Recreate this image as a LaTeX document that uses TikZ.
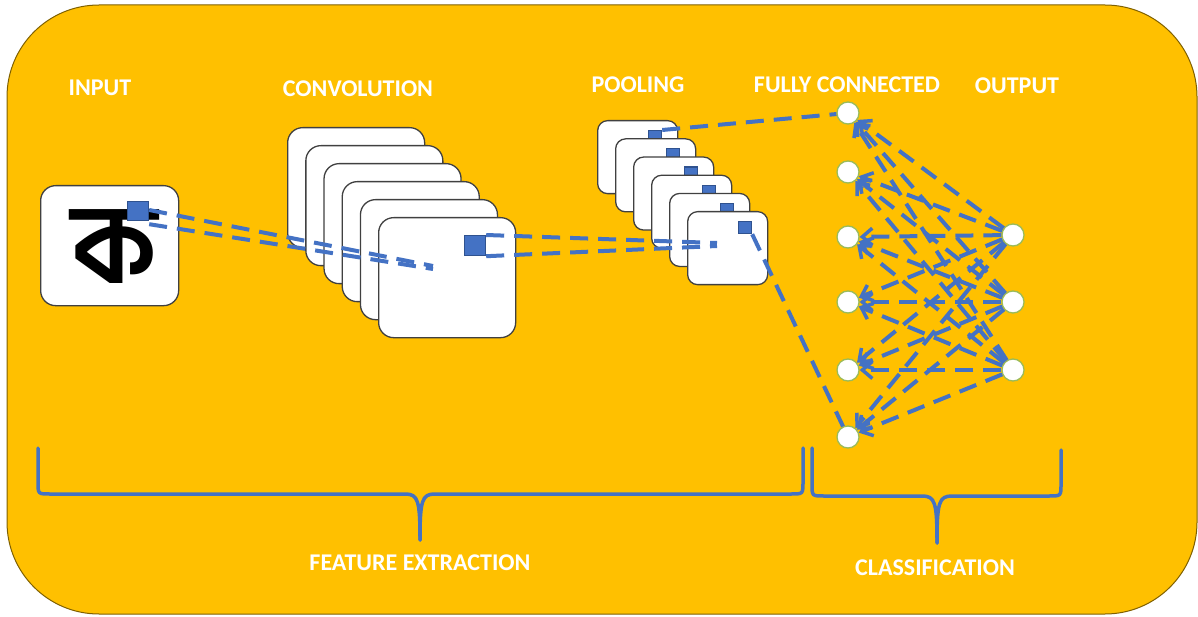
\documentclass[tikz,border=0pt]{standalone}
\usepackage{fontspec}
\setmainfont{Carlito}
\newfontfamily\bnfont[Script=Bengali]{Hind Siliguri}
\usetikzlibrary{arrows.meta,calc}
\definecolor{gold}{HTML}{FFC000}
\definecolor{goldedge}{HTML}{7F6000}
\definecolor{cnnblue}{HTML}{4472C4}
\definecolor{navy}{HTML}{2F528F}
\definecolor{nodegreen}{HTML}{9BBB59}
\tikzset{
  lbl/.style={font=\fontsize{24}{24}\selectfont\bfseries, text=white, inner sep=0pt},
  convcard/.style={draw=black!75, fill=white, rounded corners=15pt, line width=1.3pt,
    minimum width=137pt, minimum height=120pt, anchor=north west, inner sep=0pt},
  poolcard/.style={draw=black!75, fill=white, rounded corners=10pt, line width=1.3pt,
    minimum width=80pt, minimum height=73pt, anchor=north west, inner sep=0pt},
  bsq/.style={draw=navy, fill=cnnblue, line width=1.2pt, anchor=north west, inner sep=0pt},
  dl/.style={draw=cnnblue, line width=4pt, dash pattern=on 18pt off 10pt},
  neuron/.style={circle, draw=nodegreen, fill=white, line width=1.3pt, minimum size=22pt, inner sep=0pt},
  brace/.style={draw=cnnblue, line width=3.5pt, line cap=round},
  tip/.style={-{Straight Barb[length=10pt,width=17pt,line width=3.5pt]}}
}
\begin{document}
\begin{tikzpicture}[x=1pt,y=-1pt]
\useasboundingbox (0,0) rectangle (1198,617);
% background
\path[fill=gold, draw=goldedge, line width=1pt, rounded corners=92pt] (7,5) rectangle (1197,614);
% labels
\node[lbl] (tin) at (100,88) {INPUT};
\node[lbl] (tconv) at (358,89) {CONVOLUTION};
\node[lbl] (tpool) at (638,85) {POOLING};
\node[lbl] (tfc) at (847,85) {FULLY CONNECTED};
\node[lbl] (tout) at (1017,86) {OUTPUT};
\node[lbl] (tfe) at (420,563) {FEATURE EXTRACTION};
\node[lbl] (tcl) at (935,568) {CLASSIFICATION};
% input
\node[draw=black!75, fill=white, rounded corners=15pt, line width=1.3pt, minimum width=138pt,
  minimum height=120pt, anchor=north west, inner sep=0pt] (inbox) at (40,185) {};
\node[font=\bnfont\fontsize{112}{112}\selectfont\bfseries, inner sep=0pt] (ka) at (114,247) {ক};
\node[bsq, minimum width=21pt, minimum height=19pt] (isq) at (127,201) {};
% convolution cards
\foreach \k in {0,...,5}{
  \node[convcard] (cc\k) at ({287+18.2*\k},{127+18*\k}) {};
  \node[bsq, minimum width=21pt, minimum height=20pt] (cs\k) at ({287+18.2*\k+86},{127+18*\k+18}) {};
}
% pooling cards
\foreach \k in {0,...,5}{
  \node[poolcard] (pc\k) at ({597+18*\k},{120+18.2*\k}) {};
  \node[bsq, minimum width=13pt, minimum height=12pt] (ps\k) at ({597+18*\k+51},{120+18.2*\k+10}) {};
}
% neurons
\foreach \i/\y in {1/113,2/172,3/237,4/302,5/370,6/437}{
  \node[neuron] (f\i) at (848,\y) {};
}
\foreach \i/\y in {1/235,2/302,3/370}{
  \node[neuron] (o\i) at (1013,\y) {};
}
% connectors input -> conv
\coordinate (ce1) at (433,266);
\coordinate (ce2) at (433,269);
\draw[dl] ($(isq.north east)+(0,9)$) -- (ce1);
\draw[dl] ($(isq.south east)+(0,3)$) -- (ce2);
% conv -> pool
\coordinate (pe1) at (717,243);
\coordinate (pe2) at (717,246);
\draw[dl] (cs5.north east) -- (pe1);
\draw[dl] (cs5.south east) -- (pe2);
% pool -> fc
\draw[dl] (ps0.north east) -- (f1);
\draw[dl] (ps5.south east) -- (f6);
% output -> fc
\foreach \o in {1,2,3}{
  \foreach \f in {1,...,6}{
    \draw[dl, tip] (o\o) -- (f\f);
  }
}
% braces
\draw[brace] (38,448) -- (38,482) .. controls (38,494) .. (50,494) -- (405,494)
  .. controls (418,494) and (420,500) .. (420,540);
\draw[brace] (803,448) -- (803,482) .. controls (803,494) .. (791,494) -- (435,494)
  .. controls (422,494) and (420,500) .. (420,540);
\draw[brace] (812,448) -- (812,484) .. controls (812,496) .. (824,496) -- (922,496)
  .. controls (935,496) and (937,502) .. (937,543);
\draw[brace] (1061,450) -- (1061,484) .. controls (1061,496) .. (1049,496) -- (952,496)
  .. controls (939,496) and (937,502) .. (937,543);
\end{tikzpicture}
\end{document}
